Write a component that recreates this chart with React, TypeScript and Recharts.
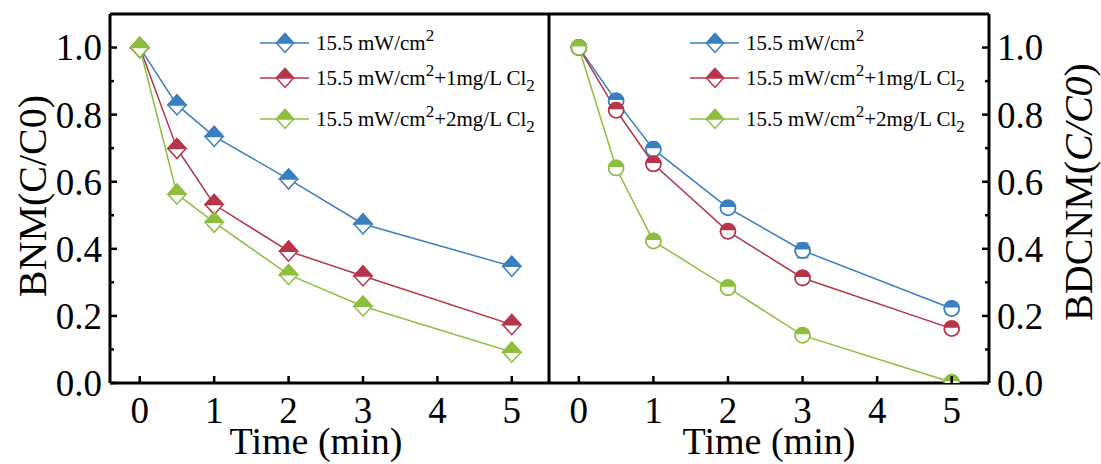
import React from 'react';
import { LineChart, Line, XAxis, YAxis, Legend, ErrorBar, ReferenceLine } from 'recharts';

const times = [0, 0.5, 1, 2, 3, 5];
const bnmBlue = [1.0, 0.829, 0.735, 0.608, 0.474, 0.348];
const bnmRed = [1.0, 0.699, 0.532, 0.393, 0.319, 0.174];
const bnmGreen = [1.0, 0.563, 0.479, 0.323, 0.229, 0.092];
const bdcnmBlue = [1.0, 0.841, 0.697, 0.522, 0.395, 0.222];
const bdcnmRed = [1.0, 0.813, 0.653, 0.452, 0.313, 0.162];
const bdcnmGreen = [1.0, 0.641, 0.423, 0.284, 0.142, 0.002];
const bdcnmBlueErr = [0.004, 0.01, 0.01, 0.01, 0.022, 0.016];
const bdcnmRedErr = [0.004, 0.008, 0.008, 0.008, 0.012, 0.016];
const bdcnmGreenErr = [0.004, 0.006, 0.006, 0.006, 0.006, 0.004];

const xTicks = [0, 1, 2, 3, 4, 5];
const yTicks = [0, 0.1, 0.2, 0.3, 0.4, 0.5, 0.6, 0.7, 0.8, 0.9, 1.0];
const xDomain = [-0.4, 5.5];
const yDomain = [0, 1.1];
const seriesNames = ['15.5 mW/cm', '15.5 mW/cm', '15.5 mW/cm'];
const seriesSuffix = ['', '+1mg/L Cl', '+2mg/L Cl'];
const colors = ['#3a7fc0', '#b8344a', '#8dbf3f'];

const bnmData = times.map((t, i) => ({ t, blue: bnmBlue[i], red: bnmRed[i], green: bnmGreen[i] }));
const bdcnmData = times.map((t, i) => ({
  t,
  blue: bdcnmBlue[i],
  red: bdcnmRed[i],
  green: bdcnmGreen[i],
  blueErr: bdcnmBlueErr[i],
  redErr: bdcnmRedErr[i],
  greenErr: bdcnmGreenErr[i],
}));

const FONT = '"Liberation Serif", "Times New Roman", serif';
const TICK_FS = 37;

const diamond = (color: string, w = 9, h = 10) => (props: any) => {
  const { cx, cy, index } = props;
  if (cx == null || cy == null) return <g key={index} />;
  return (
    <g key={index}>
      <path d={`M${cx - w},${cy} L${cx},${cy - h} L${cx + w},${cy} L${cx},${cy + h} Z`} fill="#fff" stroke={color} strokeWidth={1.5} />
      <path d={`M${cx - w},${cy} L${cx},${cy - h} L${cx + w},${cy} Z`} fill={color} stroke={color} strokeWidth={1.5} />
    </g>
  );
};

const halfCircle = (color: string, r = 7.5) => (props: any) => {
  const { cx, cy, index } = props;
  if (cx == null || cy == null) return <g key={index} />;
  return (
    <g key={index}>
      <circle cx={cx} cy={cy} r={r} fill="#fff" stroke={color} strokeWidth={1.8} />
      <path d={`M${cx - r},${cy - 1} A${r},${r} 0 0 1 ${cx + r},${cy - 1} Z`} fill={color} />
    </g>
  );
};

const XTick = (props: any) => {
  const { x, y, payload } = props;
  return (
    <g>
      <line x1={x} x2={x} y1={y} y2={y - 7} stroke="#000" strokeWidth={2.5} />
      <text x={x} y={y + 40} textAnchor="middle" fontSize={TICK_FS} fontFamily={FONT} fill="#000">
        {payload.value}
      </text>
    </g>
  );
};

const isMajor = (v: number) => Math.abs(Math.round(v * 10) % 2) === 0;

const YTickLeft = (props: any) => {
  const { x, y, payload } = props;
  const major = isMajor(payload.value);
  return (
    <g>
      <line x1={x} x2={x + (major ? 7 : 4)} y1={y} y2={y} stroke="#000" strokeWidth={2.5} />
      {major && (
        <text x={x - 8} y={y} dy="0.35em" textAnchor="end" fontSize={TICK_FS} fontFamily={FONT} fill="#000">
          {payload.value.toFixed(1)}
        </text>
      )}
    </g>
  );
};

const YTickRight = (props: any) => {
  const { x, y, payload } = props;
  const major = isMajor(payload.value);
  return (
    <g>
      <line x1={x} x2={x - (major ? 7 : 4)} y1={y} y2={y} stroke="#000" strokeWidth={2.5} />
      {major && (
        <text x={x + 8} y={y} dy="0.35em" textAnchor="start" fontSize={TICK_FS} fontFamily={FONT} fill="#000">
          {payload.value.toFixed(1)}
        </text>
      )}
    </g>
  );
};

const LegendBox = () => {
  const rowTops = [0, 35, 76];
  return (
    <div style={{ position: 'relative', width: 300, height: 120, fontFamily: FONT, fontSize: 21, color: '#000', lineHeight: 1 }}>
      {seriesNames.map((name, i) => (
        <div key={i} style={{ position: 'absolute', left: 0, top: rowTops[i], display: 'flex', alignItems: 'center', whiteSpace: 'nowrap' }}>
          <svg width={50} height={24} style={{ display: 'block' }}>
            <line x1={0} x2={49} y1={12} y2={12} stroke={colors[i]} strokeWidth={1.5} />
            {diamond(colors[i], 8.5, 9.5)({ cx: 25, cy: 12, index: 0 })}
          </svg>
          <span style={{ marginLeft: 6 }}>
            {name}
            <sup style={{ fontSize: 17, verticalAlign: 0, position: 'relative', top: -9 }}>2</sup>
            {seriesSuffix[i]}
            {seriesSuffix[i] && <sub style={{ fontSize: 17, verticalAlign: 0, position: 'relative', top: 6 }}>2</sub>}
          </span>
        </div>
      ))}
    </div>
  );
};

const axisLine = { stroke: '#000', strokeWidth: 3 };

const YLabelLeft = (props: any) => (
  <text transform={`translate(46,196) rotate(-90)`} textAnchor="middle" fontSize={40} fontFamily={FONT} fill="#000">
    BNM(C/C0)
  </text>
);

const YLabelRight = (props: any) => (
  <text transform={`translate(553,192) rotate(-90)`} textAnchor="middle" fontSize={40} fontFamily={FONT} fill="#000">
    BDCNM(<tspan fontStyle="italic">C/C0</tspan>)
  </text>
);

const XLabel = (cx: number) => (props: any) => (
  <text x={cx} y={454} textAnchor="middle" fontSize={38} fontFamily={FONT} fill="#000">
    Time (min)
  </text>
);

export default function App() {
  return (
    <div style={{ position: 'fixed', left: 0, top: 0, width: 1101, height: 464, background: '#fff' }}>
      <div style={{ position: 'absolute', left: 0, top: 0 }}>
        <LineChart width={549} height={464} data={bnmData} margin={{ top: 14, right: 0, bottom: 0, left: 0 }}>
          <XAxis
            dataKey="t"
            type="number"
            domain={xDomain}
            ticks={xTicks}
            allowDataOverflow
            height={81}
            axisLine={axisLine}
            tickLine={false}
            tickSize={0}
            tickMargin={0}
            tick={<XTick />}
            interval={0}
            label={XLabel(316)}
          />
          <YAxis
            type="number"
            domain={yDomain}
            ticks={yTicks}
            allowDataOverflow
            width={110}
            axisLine={axisLine}
            tickLine={false}
            tickSize={0}
            tickMargin={0}
            tick={<YTickLeft />}
            interval={0}
            label={YLabelLeft}
          />
          <ReferenceLine y={yDomain[1]} stroke="#000" strokeWidth={3} />
          <Line dataKey="blue" stroke={colors[0]} strokeWidth={1.5} dot={diamond(colors[0])} isAnimationActive={false} />
          <Line dataKey="red" stroke={colors[1]} strokeWidth={1.5} dot={diamond(colors[1])} isAnimationActive={false} />
          <Line dataKey="green" stroke={colors[2]} strokeWidth={1.5} dot={diamond(colors[2])} isAnimationActive={false} />
          <Legend
            content={LegendBox}
            layout="horizontal"
            verticalAlign="middle"
            align="center"
            wrapperStyle={{ position: 'absolute', left: 260, top: 31, width: 300, height: 120 }}
          />
        </LineChart>
      </div>
      <div style={{ position: 'absolute', left: 539, top: 0 }}>
        <LineChart width={562} height={464} data={bdcnmData} margin={{ top: 14, right: 0, bottom: 0, left: 10 }}>
          <XAxis
            dataKey="t"
            type="number"
            domain={xDomain}
            ticks={xTicks}
            allowDataOverflow
            height={81}
            axisLine={axisLine}
            tickLine={false}
            tickSize={0}
            tickMargin={0}
            tick={<XTick />}
            interval={0}
            label={XLabel(769 - 539)}
          />
          <YAxis
            type="number"
            orientation="right"
            domain={yDomain}
            ticks={yTicks}
            allowDataOverflow
            width={112}
            axisLine={axisLine}
            tickLine={false}
            tickSize={0}
            tickMargin={0}
            tick={<YTickRight />}
            interval={0}
            label={YLabelRight}
          />
          <ReferenceLine y={yDomain[1]} stroke="#000" strokeWidth={3} />
          <ReferenceLine x={xDomain[0]} stroke="#000" strokeWidth={3} />
          <Line dataKey="blue" stroke={colors[0]} strokeWidth={1.5} dot={halfCircle(colors[0])} isAnimationActive={false}>
            <ErrorBar dataKey="blueErr" width={6} stroke={colors[0]} strokeWidth={1.2} direction="y" />
          </Line>
          <Line dataKey="red" stroke={colors[1]} strokeWidth={1.5} dot={halfCircle(colors[1])} isAnimationActive={false}>
            <ErrorBar dataKey="redErr" width={6} stroke={colors[1]} strokeWidth={1.2} direction="y" />
          </Line>
          <Line dataKey="green" stroke={colors[2]} strokeWidth={1.5} dot={halfCircle(colors[2])} isAnimationActive={false}>
            <ErrorBar dataKey="greenErr" width={6} stroke={colors[2]} strokeWidth={1.2} direction="y" />
          </Line>
          <Legend
            content={LegendBox}
            layout="horizontal"
            verticalAlign="middle"
            align="center"
            wrapperStyle={{ position: 'absolute', left: 690 - 539, top: 31, width: 300, height: 120 }}
          />
        </LineChart>
      </div>
    </div>
  );
}
